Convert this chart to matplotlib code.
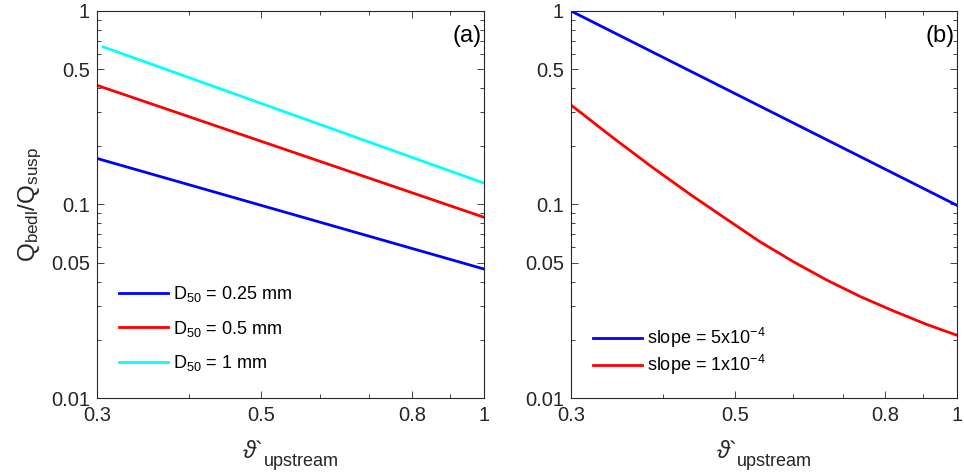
import matplotlib
matplotlib.use("Agg")
import matplotlib.pyplot as plt
from matplotlib.ticker import FixedLocator, NullFormatter, LogLocator

plt.rcParams['font.family'] = ['Liberation Sans', 'DejaVu Sans']
plt.rcParams['mathtext.fontset'] = 'custom'
plt.rcParams['mathtext.rm'] = 'Liberation Sans'
plt.rcParams['mathtext.it'] = 'Liberation Sans:italic'
plt.rcParams['mathtext.bf'] = 'Liberation Sans:bold'

# (a) ratio of bedload to suspended load for three grain sizes (power laws)
theta_a = [0.3, 1.0]
theta_a_cyan = [0.306, 1.0]
ratio_d025 = [0.173, 0.0464]
ratio_d05 = [0.413, 0.0859]
ratio_d1 = [0.652, 0.129]
labels_a = [r'D$_{50}$ = 0.25 mm', r'D$_{50}$ = 0.5 mm', r'D$_{50}$ = 1 mm']

# (b) ratio for two channel slopes
theta_b_steep = [0.3, 1.0]
ratio_s5 = [1.0, 0.099]
theta_b_mild = [0.3, 0.340, 0.385, 0.4362, 0.4942, 0.5409, 0.6003, 0.6662,
                0.7389, 0.8197, 0.9098, 1.0]
ratio_s1 = [0.3267, 0.2252, 0.1575, 0.1120, 0.0810, 0.0642, 0.0506, 0.0407,
            0.0335, 0.0282, 0.0240, 0.0211]
labels_b = [r'slope = 5x10$^{-4}$', r'slope = 1x10$^{-4}$']

xticks = [0.3, 0.5, 0.8, 1]
xtick_labels = ['0.3', '0.5', '0.8', '1']
xminor = [0.4, 0.6, 0.7, 0.9]
yticks = [0.01, 0.05, 0.1, 0.5, 1]
ytick_labels = ['0.01', '0.05', '0.1', '0.5', '1']

W, H = 964, 475
fig = plt.figure(figsize=(W / 100, H / 100), dpi=100)
ax_a = fig.add_axes([97 / W, 1 - 398 / H, 387 / W, 387 / H])
ax_b = fig.add_axes([571 / W, 1 - 398 / H, 386 / W, 387 / H])

axc = (0.15, 0.15, 0.15)
lw = 2.0

ax_a.plot(theta_a, ratio_d025, color=(0, 0, 1), lw=lw, label=labels_a[0])
ax_a.plot(theta_a, ratio_d05, color=(1, 0, 0), lw=lw, label=labels_a[1])
ax_a.plot(theta_a_cyan, ratio_d1, color=(0, 1, 1), lw=lw, label=labels_a[2])

ax_b.plot(theta_b_steep, ratio_s5, color=(0, 0, 1), lw=lw, label=labels_b[0])
ax_b.plot(theta_b_mild, ratio_s1, color=(1, 0, 0), lw=lw, label=labels_b[1])

for ax, tag in ((ax_a, '(a)'), (ax_b, '(b)')):
    ax.set_xscale('log')
    ax.set_yscale('log')
    ax.set_xlim(0.3, 1)
    ax.set_ylim(0.01, 1)
    ax.xaxis.set_major_locator(FixedLocator(xticks))
    ax.set_xticklabels(xtick_labels)
    ax.xaxis.set_minor_locator(FixedLocator(xminor))
    ax.xaxis.set_minor_formatter(NullFormatter())
    ax.yaxis.set_major_locator(FixedLocator(yticks))
    ax.set_yticklabels(ytick_labels)
    ax.yaxis.set_minor_locator(LogLocator(base=10, subs=range(2, 10)))
    ax.yaxis.set_minor_formatter(NullFormatter())
    ax.tick_params(which='both', direction='in', top=True, right=True,
                   color=axc, labelcolor=axc, labelsize=14.5)
    ax.tick_params(which='major', length=5, width=0.6)
    ax.tick_params(axis='x', which='major', pad=6)
    ax.tick_params(axis='y', which='major', pad=5)
    ax.tick_params(which='minor', length=3, width=0.6)
    for s in ax.spines.values():
        s.set_color(axc)
        s.set_linewidth(0.8)
    # x label: theta with a grave mark, followed by a lowered "upstream"
    ax.annotate(r'$\vartheta$`', xy=(0.5, 0), xycoords='axes fraction',
                xytext=(-19.5, -43), textcoords='offset points',
                ha='right', va='baseline', fontsize=17, color=axc)
    ax.annotate('upstream', xy=(0.5, 0), xycoords='axes fraction',
                xytext=(-19.5, -49), textcoords='offset points',
                ha='left', va='baseline', fontsize=13, color=axc)
    ax.text(0.995, 0.965, tag, transform=ax.transAxes, ha='right', va='top',
            fontsize=17, color=(0, 0, 0))

ax_a.set_ylabel(r'Q$_{\mathrm{bedl}}$/Q$_{\mathrm{susp}}$', fontsize=17.5,
                color=axc, labelpad=5)

ax_a.legend(loc='lower left', bbox_to_anchor=(0.0145, 0.022), frameon=False,
            fontsize=13, handlelength=2.7, handletextpad=0.3, labelspacing=0.8)
ax_b.legend(loc='lower left', bbox_to_anchor=(0.0145, 0.0125), frameon=False,
            fontsize=13, handlelength=2.7, handletextpad=0.3, labelspacing=0.15)

fig.savefig('out.png', dpi=100)
